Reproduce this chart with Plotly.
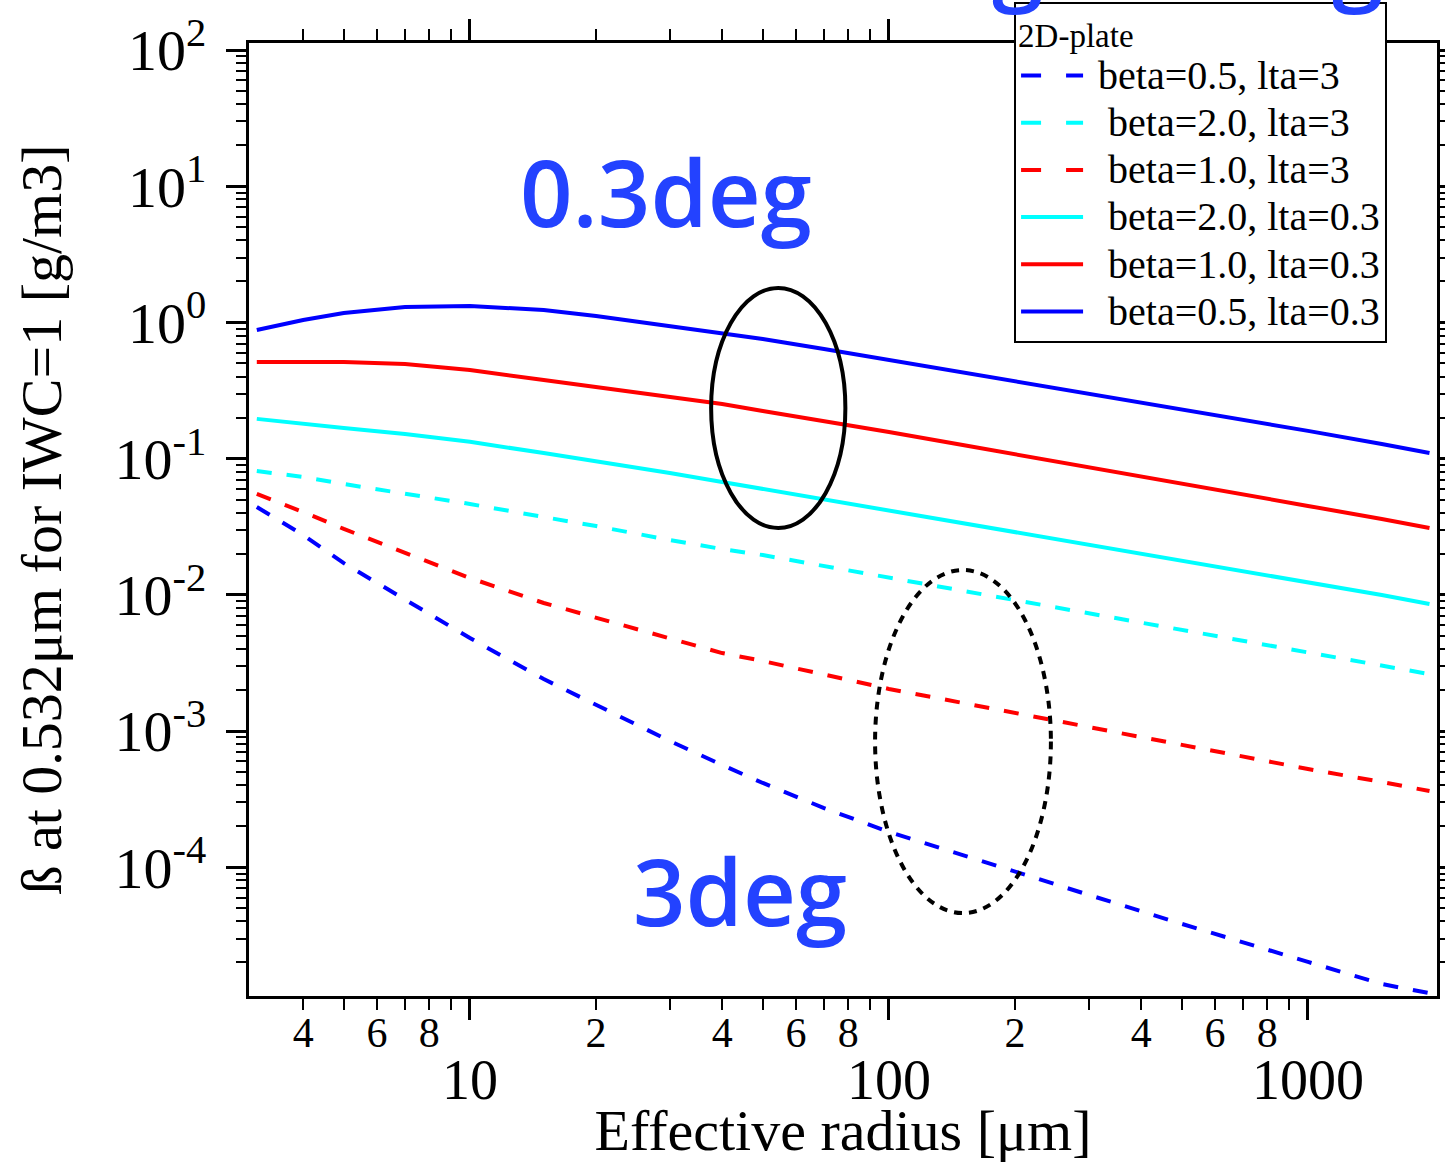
import math
import plotly.graph_objects as go

# ---------------- data ----------------
radius = [3.1, 4, 5, 7, 10, 15, 20, 30, 40, 50, 70, 100, 150, 200, 300, 500, 700, 1000, 1500, 1950]

b05_lta3 = [0.0442, 0.0275, 0.0171, 0.00933, 0.00482, 0.00241, 0.00155, 0.000845, 0.000563, 0.000416,
            0.000272, 0.000182, 0.000123, 0.0000924, 0.0000627, 0.0000384, 0.0000283, 0.0000202,
            0.0000139, 0.0000119]
b20_lta3 = [0.0812, 0.0734, 0.0652, 0.0551, 0.0465, 0.0373, 0.0320, 0.0253, 0.0217, 0.0196,
            0.0163, 0.0133, 0.0107, 0.00918, 0.00737, 0.00552, 0.00458, 0.00381, 0.00306, 0.00262]
b10_lta3 = [0.0551, 0.0406, 0.0305, 0.0203, 0.0133, 0.00872, 0.00677, 0.00475, 0.00374, 0.00327,
            0.00262, 0.00204, 0.00161, 0.00136, 0.00107, 0.000791, 0.000657, 0.000527, 0.000423, 0.000363]
b20_lta03 = [0.196, 0.180, 0.168, 0.152, 0.133, 0.110, 0.0962, 0.0785, 0.0675, 0.0600,
             0.0506, 0.0420, 0.0337, 0.0290, 0.0232, 0.0180, 0.0150, 0.0124, 0.00998, 0.00857]
b10_lta03 = [0.513, 0.513, 0.513, 0.496, 0.448, 0.378, 0.336, 0.284, 0.252, 0.224,
             0.189, 0.157, 0.126, 0.108, 0.0869, 0.0663, 0.0551, 0.0450, 0.0361, 0.0310]
b05_lta03 = [0.881, 1.043, 1.174, 1.30, 1.32, 1.235, 1.116, 0.943, 0.837, 0.757,
             0.639, 0.531, 0.433, 0.372, 0.303, 0.232, 0.192, 0.160, 0.128, 0.110]

series_names = ["beta=0.5, lta=3", "beta=2.0, lta=3", "beta=1.0, lta=3",
                "beta=2.0, lta=0.3", "beta=1.0, lta=0.3", "beta=0.5, lta=0.3"]

x_minor_vals = [4, 5, 6, 7, 8, 9, 20, 30, 40, 50, 60, 70, 80, 90, 200, 300, 400, 500, 600, 700, 800, 900]
x_minor_text = ["4", "", "6", "", "8", "", "2", "", "4", "", "6", "", "8", "",
                "2", "", "4", "", "6", "", "8", ""]
x_major_vals = [10, 100, 1000]
x_major_text = ["10", "100", "1000"]

y_major_vals = [1e-4, 1e-3, 1e-2, 1e-1, 1, 10, 100]
y_major_text = ["10<sup>-4</sup>", "10<sup>-3</sup>", "10<sup>-2</sup>", "10<sup>-1</sup>",
                "10<sup>0</sup>", "10<sup>1</sup>", "10<sup>2</sup>"]
y_minor_vals = [m * 10.0 ** e for e in range(-5, 2) for m in range(2, 10)]

# ---------------- figure ----------------
SERIF = "Liberation Serif"
BLUE, CYAN, RED = "#0000ff", "#00ffff", "#ff0000"
DASH = "15px,15px"
LEGEND_DASH = "20px,25px"

series = [
    (b05_lta3, BLUE, DASH),
    (b20_lta3, CYAN, DASH),
    (b10_lta3, RED, DASH),
    (b20_lta03, CYAN, "solid"),
    (b10_lta03, RED, "solid"),
    (b05_lta03, BLUE, "solid"),
]

fig = go.Figure()
for i, ((vals, col, dash), name) in enumerate(zip(series, series_names)):
    fig.add_trace(go.Scatter(x=radius, y=vals, mode="lines", name=name, legendgroup=name,
                             showlegend=False,
                             line=dict(color=col, width=4, dash=dash)))
    pad = "&nbsp;" if i == 0 else "&nbsp;&nbsp;"
    fig.add_trace(go.Scatter(x=[None], y=[None], mode="lines", legendgroup=name,
                             name='<span style="font-size:40px">' + pad + name + '</span>',
                             hoverinfo="skip",
                             line=dict(color=col, width=4,
                                       dash=LEGEND_DASH if dash != "solid" else "solid")))

# dummy trace so the overlaid major-tick axis is active
fig.add_trace(go.Scatter(x=[10], y=[1], mode="lines", xaxis="x2", showlegend=False,
                         hoverinfo="skip", line=dict(width=0)))

xr = [math.log10(2.97), math.log10(2032)]
yr = [-4.945, 2.052]

fig.update_layout(
    width=1445, height=1163,
    margin=dict(l=249, r=8, t=43, b=167, autoexpand=False),
    paper_bgcolor="white", plot_bgcolor="white",
    font=dict(family=SERIF, color="black"),
    showlegend=True,
    legend=dict(
        x=0.644, y=1.043, xanchor="left", yanchor="top",
        bgcolor="white", bordercolor="black", borderwidth=2,
        font=dict(family=SERIF, size=34, color="black"),
        title=dict(text="2D-plate", font=dict(family=SERIF, size=33, color="black")),
        tracegroupgap=0, itemwidth=62,
    ),
    xaxis=dict(
        type="log", range=xr, showgrid=False, zeroline=False, automargin=False,
        showline=True, linecolor="black", linewidth=3, mirror="ticks",
        ticks="outside", ticklen=11, tickwidth=2, tickcolor="black",
        tickmode="array", tickvals=x_minor_vals, ticktext=x_minor_text,
        tickfont=dict(family=SERIF, size=42, color="black"),
        ticklabelstandoff=-13,
    ),
    xaxis2=dict(
        type="log", range=xr, overlaying="x", side="bottom", anchor="y",
        showgrid=False, zeroline=False, automargin=False,
        showline=True, linecolor="black", linewidth=3, mirror="ticks",
        ticks="outside", ticklen=21, tickwidth=3, tickcolor="black",
        tickmode="array", tickvals=x_major_vals, ticktext=x_major_text,
        tickfont=dict(family=SERIF, size=56, color="black"),
        ticklabelstandoff=12,
        title=dict(text="Effective radius [μm]", font=dict(family=SERIF, size=58, color="black"),
                   standoff=0),
    ),
    yaxis=dict(
        type="log", range=yr, showgrid=False, zeroline=False, automargin=False,
        showline=True, linecolor="black", linewidth=3, mirror="ticks",
        ticks="outside", ticklen=20, tickwidth=3, tickcolor="black",
        tickmode="array", tickvals=y_major_vals, ticktext=y_major_text,
        tickfont=dict(family=SERIF, size=58, color="black"),
        ticklabelstandoff=8,
        minor=dict(tickmode="array", tickvals=y_minor_vals, ticklen=10, tickwidth=2,
                   tickcolor="black", ticks="outside", showgrid=False),
        title=dict(text="ß at 0.532μm for IWC=1 [g/m3]",
                   font=dict(family=SERIF, size=58, color="black"), standoff=35),
    ),
)

# ellipses highlighting the two groups
fig.add_shape(type="circle", xref="paper", yref="paper",
              x0=0.389, x1=0.502, y0=0.491, y1=0.743,
              line=dict(color="black", width=4))
fig.add_shape(type="circle", xref="paper", yref="paper",
              x0=0.527, x1=0.675, y0=0.087, y1=0.447,
              line=dict(color="black", width=4, dash="8px,7px"))

LABEL_BLUE = "#2342ff"
SANS = "Open Sans"
fig.add_annotation(text="0.3deg", xref="paper", yref="paper", x=0.351, y=0.8437,
                   xanchor="center", yanchor="middle", showarrow=False,
                   font=dict(family=SANS, size=92, color=LABEL_BLUE, weight=600))
fig.add_annotation(text="3deg", xref="paper", yref="paper", x=0.413, y=0.111,
                   xanchor="center", yanchor="middle", showarrow=False,
                   font=dict(family=SANS, size=92, color=LABEL_BLUE, weight=600))
# descenders of labels cut off at the top edge
for gx in (0.647, 0.9335):
    fig.add_annotation(text="g", xref="paper", yref="paper", x=gx, y=1.022,
                       xanchor="center", yanchor="bottom", showarrow=False,
                       font=dict(family=SANS, size=92, color=LABEL_BLUE, weight=600))

fig.write_html("out.html")
